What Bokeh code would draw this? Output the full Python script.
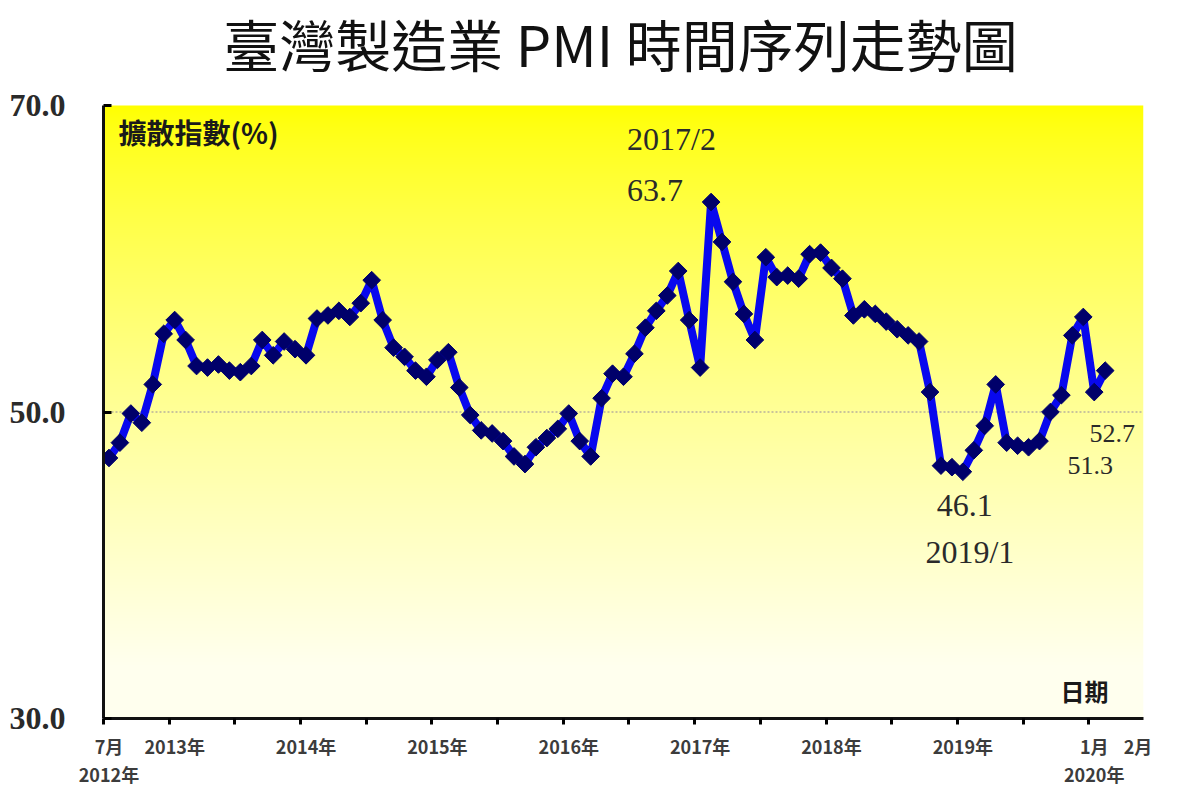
import numpy as np
from bokeh.plotting import figure
from bokeh.models import Range1d, LinearAxis, FixedTicker, Span, Label
from bokeh.embed import file_html
from bokeh.resources import INLINE

# ---------------- data ----------------
# Taiwan manufacturing PMI, monthly, 2012/7 .. 2020/2
months = [f"{y}/{m}" for y in range(2012, 2021) for m in range(1, 13)]
months = months[6:6 + 92]
pmi = [47.0, 48.0, 49.9, 49.3, 51.8, 55.1,                                  # 2012/7-12
       56.0, 54.7, 53.0, 52.9, 53.1, 52.7, 52.6, 53.0, 54.7, 53.7, 54.6, 54.1,  # 2013
       53.7, 56.1, 56.3, 56.6, 56.2, 57.1, 58.6, 56.0, 54.2, 53.6, 52.7, 52.3,  # 2014
       53.4, 53.9, 51.6, 49.8, 48.8, 48.6, 48.1, 47.1, 46.6, 47.7, 48.3, 48.9,  # 2015
       49.9, 48.1, 47.1, 50.9, 52.5, 52.3, 53.8, 55.5, 56.6, 57.6, 59.2, 56.0,  # 2016
       52.9, 63.7, 61.1, 58.5, 56.4, 54.7, 60.1, 58.8, 58.9, 58.7, 60.3, 60.4,  # 2017
       59.4, 58.7, 56.3, 56.7, 56.4, 55.9, 55.4, 55.0, 54.6, 51.3, 46.5, 46.4,  # 2018
       46.1, 47.5, 49.1, 51.8, 48.0, 47.8, 47.7, 48.1, 50.0, 51.1, 55.0, 56.2,  # 2019
       51.3, 52.7]                                                            # 2020/1-2

# x tick marks (months since 2012/7) and tick labels
tick_pos = [0, 6, 12, 18, 24, 30, 36, 42, 48, 54, 60, 66, 72, 78, 84, 90]
label_pos = [0, 6, 18, 30, 42, 54, 66, 78, 90, 94]
label_text = ["7月", "2013年", "2014年", "2015年", "2016年",
              "2017年", "2018年", "2019年", "1月", "2月"]
year_pos = [0, 90]
year_text = ["2012年", "2020年"]

y_ticks = [30, 50, 70]
y_tick_text = ["30.0", "50.0", "70.0"]
threshold = 50

X_LO, X_HI = 0, 95
Y_LO, Y_HI = 30, 70
HALF = 0.5   # month centre offset

title_text = "臺灣製造業 PMI 時間序列走勢圖"
ylabel_text = "擴散指數(%)"
xlabel_text = "日期"

# ---------------- layout ----------------
W, H = 1200, 800
BORDER_L, BORDER_R, BORDER_B = 103, 57, 82
FRAME_H = H - BORDER_B          # frame reaches the top of the canvas (title drawn inside)
PLOT_H = 613                    # pixel height of the 30..70 value band
Y_TOP = Y_LO + (Y_HI - Y_LO) * FRAME_H / PLOT_H

p = figure(width=W, height=H, output_backend="svg", toolbar_location=None,
           x_range=Range1d(X_LO, X_HI), y_range=Range1d(Y_LO, Y_TOP),
           x_axis_location=None, y_axis_location=None,
           min_border_left=BORDER_L, min_border_right=BORDER_R,
           min_border_top=0, min_border_bottom=BORDER_B)
p.outline_line_color = None
p.xgrid.visible = False
p.ygrid.visible = False
p.background_fill_color = "white"
p.border_fill_color = "white"

# vertical yellow gradient background for the 30..70 band
n = PLOT_H
frac_from_top = np.linspace(1, 0, n)        # row 0 = bottom
blue = np.clip(255 * frac_from_top ** 0.75, 0, 238).astype(np.uint8)
img = np.empty((n, 1), dtype=np.uint32)
view = img.view(dtype=np.uint8).reshape((n, 1, 4))
view[:, 0, 0] = 255
view[:, 0, 1] = 255
view[:, 0, 2] = blue
view[:, 0, 3] = 255
bg = p.image_rgba(image=[img], x=X_LO, y=Y_LO, dw=X_HI - X_LO, dh=Y_HI - Y_LO)
bg.level = "image"

# 50 threshold dotted line
p.add_layout(Span(location=threshold, dimension="width", line_color="#c9c49a",
                  line_width=2, line_dash="2 2", level="underlay"))

# y axis
yaxis = LinearAxis(ticker=FixedTicker(ticks=y_ticks), bounds=(Y_LO, Y_HI),
                   major_label_overrides=dict(zip(y_ticks, y_tick_text)))
yaxis.axis_line_width = 3
yaxis.axis_line_color = "#111111"
yaxis.major_tick_in = 8
yaxis.major_tick_out = 0
yaxis.major_tick_line_width = 3
yaxis.minor_tick_line_color = None
yaxis.major_label_standoff = 38
yaxis.major_label_text_font = "Liberation Serif"
yaxis.major_label_text_font_style = "bold"
yaxis.major_label_text_font_size = "32px"
yaxis.major_label_text_color = "#2a2a2a"
p.add_layout(yaxis, "left")

# x axis: line + tick marks only
tickaxis = LinearAxis(ticker=FixedTicker(ticks=tick_pos),
                      major_label_overrides={t: "" for t in tick_pos})
tickaxis.axis_line_width = 3
tickaxis.axis_line_color = "#111111"
tickaxis.major_tick_in = 0
tickaxis.major_tick_out = 6
tickaxis.major_tick_line_width = 3
tickaxis.minor_tick_line_color = None
tickaxis.major_label_standoff = 0
tickaxis.major_label_text_font_size = "1px"
p.add_layout(tickaxis, "below")

def label_axis(pos, text, standoff):
    pos = [v + HALF for v in pos]
    ax = LinearAxis(ticker=FixedTicker(ticks=pos), major_label_overrides=dict(zip(pos, text)))
    ax.axis_line_color = None
    ax.major_tick_line_color = None
    ax.minor_tick_line_color = None
    ax.major_tick_in = 0
    ax.major_tick_out = 0
    ax.major_label_standoff = standoff
    ax.major_label_text_font = "Noto Sans CJK TC"
    ax.major_label_text_font_style = "bold"
    ax.major_label_text_font_size = "18px"
    ax.major_label_text_color = "#3c3c3c"
    return ax

p.add_layout(label_axis(label_pos, label_text, 8), "below")
p.add_layout(label_axis(year_pos, year_text, -1), "below")

# data line + markers
xs = np.arange(len(pmi)) + HALF
p.line(xs, pmi, line_color="#0808ee", line_width=8)
p.scatter(xs, pmi, marker="square", angle=np.pi / 4, size=12.5,
          fill_color="#00006a", line_color="#00006a")

# annotations
ann_font = "Liberation Serif"
ann_color = "#2a2a2a"
i_max = int(np.argmax(pmi))
i_min = int(np.argmin(pmi))
def ann(i, text, dx, dy, size, align="center"):
    p.add_layout(Label(x=xs[i], y=pmi[i], x_offset=dx, y_offset=dy, text=text,
                       text_align=align, text_baseline="middle", text_font=ann_font,
                       text_font_size=size, text_color=ann_color))

ann(i_max, months[i_max], -84, 63, "32px", "left")
ann(i_max, f"{pmi[i_max]:.1f}", -84, 12, "32px", "left")
ann(i_min, f"{pmi[i_min]:.1f}", 2, -34, "32px")
ann(i_min, months[i_min], 7, -80, "32px")
ann(len(pmi) - 1, f"{pmi[-1]:.1f}", 7, -63, "26px")
ann(len(pmi) - 2, f"{pmi[-2]:.1f}", -4, -73, "26px")

# title and axis captions (screen units relative to the plot frame's bottom-left)
p.add_layout(Label(x=517, y=FRAME_H - 42, x_units="screen", y_units="screen", text=title_text,
                   text_align="center", text_baseline="middle",
                   text_font="Noto Sans CJK TC", text_font_size="56px", text_color="#111111"))
p.add_layout(Label(x=15, y=587, x_units="screen", y_units="screen", text=ylabel_text,
                   text_align="left", text_baseline="middle",
                   text_font="Noto Sans CJK TC", text_font_style="bold",
                   text_font_size="28px", text_color="#1a1a1a"))
p.add_layout(Label(x=981, y=28, x_units="screen", y_units="screen", text=xlabel_text,
                   text_align="center", text_baseline="middle",
                   text_font="Noto Sans CJK TC", text_font_style="bold",
                   text_font_size="24px", text_color="#1a1a1a"))

open("out.html", "w").write(file_html(p, INLINE))
